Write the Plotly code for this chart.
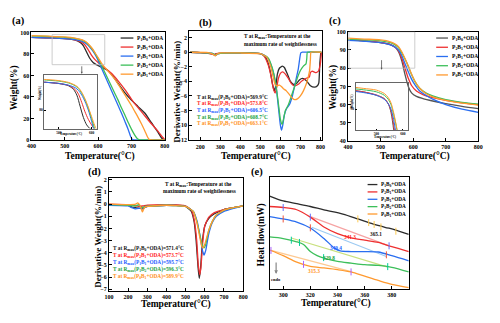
import plotly.graph_objects as go

W, H = 500, 323
FONT = "Liberation Serif"

def PX(p):
    return p / W

def PY(p):
    return 1 - p / H

# ---------------- data ----------------
names = ["P<sub>1</sub>B<sub>0</sub>+ODA", "P<sub>2</sub>B<sub>1</sub>+ODA", "P<sub>1</sub>B<sub>1</sub>+ODA",
         "P<sub>1</sub>B<sub>2</sub>+ODA", "P<sub>0</sub>B<sub>1</sub>+ODA"]
colors = ["#2b2b2b", "#ee3030", "#2a6ef0", "#3cbf5a", "#ff9a30"]
txt_colors = ["#111111", "#ff1a1a", "#1a5cff", "#1aa040", "#ff9020"]

# (a) TGA weight (%) vs temperature
a_T = [
    [400, 450, 500, 530, 545, 555, 565, 575, 585, 595, 605, 615, 625, 640, 660, 680, 700, 720, 740, 760, 780, 790, 796, 800],
    [400, 450, 500, 530, 550, 560, 570, 580, 590, 600, 610, 620, 630, 640, 660, 680, 700, 720, 740, 760, 780, 795, 800],
    [400, 450, 500, 530, 550, 560, 570, 580, 590, 600, 610, 620, 630, 640, 650, 660, 670, 680, 690, 698, 703, 710, 800],
    [400, 450, 500, 530, 550, 560, 570, 580, 590, 600, 610, 620, 630, 640, 650, 660, 670, 680, 690, 700, 710, 718, 725, 730, 800],
    [400, 450, 500, 530, 550, 560, 570, 580, 590, 600, 610, 620, 630, 640, 650, 660, 670, 680, 690, 700, 710, 720, 730, 740, 748, 753, 760, 800],
]
a_W = [
    [95.5, 95.0, 94.2, 93.0, 91.0, 88.0, 82.0, 76.0, 72.0, 70.0, 68.5, 67.0, 65.5, 61.0, 52.5, 44.0, 37.0, 31.0, 25.0, 16.0, 7.0, 2.0, 0.4, 0.3],
    [95.5, 95.0, 94.3, 93.2, 91.0, 88.5, 84.0, 79.0, 75.0, 72.0, 69.5, 67.0, 64.5, 62.0, 55.0, 47.0, 38.0, 30.0, 22.5, 15.0, 8.0, 2.0, 0.8],
    [95.5, 95.0, 94.3, 93.3, 92.0, 90.5, 88.0, 84.5, 80.0, 74.0, 67.0, 60.0, 53.0, 46.0, 39.0, 32.0, 25.0, 17.5, 10.0, 3.0, 0.3, 0.0, 0.0],
    [96.8, 96.2, 95.5, 94.5, 93.0, 91.5, 89.0, 85.5, 81.0, 75.5, 69.5, 63.0, 56.5, 50.0, 43.5, 37.0, 30.0, 23.5, 16.5, 10.0, 4.5, 1.0, 0.1, 0.0, 0.0],
    [97.0, 96.5, 95.8, 94.8, 93.3, 92.0, 89.5, 86.0, 81.5, 76.5, 71.5, 67.5, 64.0, 60.5, 56.5, 52.0, 47.0, 42.0, 37.0, 32.0, 26.5, 21.0, 15.0, 8.5, 3.0, 0.5, 0.0, 0.0],
]

# (b) DTG (%/min)
b_T = [
    [150, 200, 250, 270, 280, 300, 350, 400, 450, 500, 520, 535, 550, 560, 570, 578, 585, 595, 610, 620, 635, 650, 665, 680, 695, 710, 730, 750, 770, 785, 792, 797, 802],
    [150, 200, 250, 270, 280, 300, 400, 500, 520, 540, 555, 565, 574, 582, 590, 600, 612, 625, 640, 655, 670, 690, 705, 720, 735, 745, 750, 760, 775, 790, 800, 805],
    [150, 200, 260, 275, 290, 400, 500, 530, 550, 565, 580, 590, 600, 606, 612, 620, 630, 645, 660, 670, 680, 690, 697, 702, 710, 805],
    [150, 200, 260, 275, 290, 400, 500, 540, 560, 575, 590, 600, 609, 617, 625, 640, 655, 670, 685, 700, 715, 728, 732, 735, 805],
    [150, 240, 265, 275, 285, 300, 400, 500, 530, 550, 565, 575, 585, 595, 605, 615, 630, 645, 660, 672, 685, 700, 715, 730, 740, 746, 750, 753, 805],
]
b_D = [
    [0.0, -0.05, -0.2, -0.3, -0.2, -0.15, -0.1, -0.08, -0.1, -0.2, -0.5, -1.2, -2.7, -4.3, -5.3, -4.5, -3.0, -2.2, -1.9, -2.1, -3.0, -4.0, -4.4, -4.3, -3.8, -3.6, -3.9, -4.6, -4.8, -4.6, -4.2, -1.5, 0.0],
    [0.0, -0.05, -0.2, -0.35, -0.2, -0.12, -0.08, -0.2, -0.6, -1.8, -3.5, -5.0, -5.6, -4.8, -3.6, -2.9, -2.7, -3.0, -3.6, -4.3, -4.6, -4.4, -4.0, -3.7, -3.5, -3.4, -2.8, -2.6, -2.8, -2.6, -1.5, 0.0],
    [0.0, -0.05, -0.15, -0.45, -0.2, -0.1, -0.2, -0.6, -1.5, -2.8, -5.0, -7.5, -10.0, -10.7, -10.0, -8.6, -7.8, -7.2, -6.0, -4.8, -3.5, -2.2, -0.8, -0.1, 0.0, 0.0],
    [0.0, -0.05, -0.15, -0.4, -0.2, -0.1, -0.2, -0.8, -2.2, -4.0, -7.0, -9.2, -9.9, -9.0, -8.0, -7.2, -6.0, -4.8, -3.5, -2.5, -1.9, -1.6, -0.8, 0.0, 0.0],
    [0.0, -0.05, -0.3, -0.5, -0.25, -0.1, -0.1, -0.2, -0.6, -1.8, -3.5, -4.5, -4.6, -4.5, -4.7, -5.0, -5.3, -5.8, -6.3, -6.5, -6.4, -6.0, -5.3, -4.3, -3.3, -2.5, -1.0, 0.0, 0.0],
]
b_labels = ["569.9", "573.8", "606.5", "608.7", "663.1"]

# (c) TGA weight (%)
c_T = [
    [400, 450, 500, 530, 545, 555, 565, 575, 585, 595, 610, 630, 660, 700, 750, 800],
    [400, 450, 500, 530, 545, 555, 565, 575, 585, 595, 610, 630, 660, 700, 750, 800],
    [400, 450, 500, 530, 545, 555, 565, 575, 585, 595, 605, 620, 640, 660, 700, 750, 800],
    [400, 450, 500, 530, 545, 555, 565, 575, 585, 595, 605, 620, 640, 660, 700, 750, 800],
    [400, 450, 500, 530, 545, 555, 565, 575, 585, 595, 605, 620, 640, 660, 700, 750, 800],
]
c_W = [
    [95.5, 95.0, 94.0, 93.0, 91.5, 89.0, 84.0, 76.5, 70.0, 66.5, 64.5, 63.3, 62.0, 60.5, 59.0, 57.8],
    [95.5, 95.0, 94.1, 93.0, 91.5, 89.5, 85.5, 80.0, 74.5, 70.5, 67.5, 65.5, 63.8, 62.3, 61.0, 60.0],
    [95.3, 94.8, 94.0, 92.8, 91.5, 90.0, 87.0, 82.5, 78.0, 74.0, 71.0, 67.5, 65.0, 63.0, 60.0, 57.5, 55.8],
    [96.0, 95.6, 95.0, 94.0, 92.8, 91.3, 88.5, 85.0, 81.0, 76.5, 72.8, 69.0, 66.3, 64.8, 62.8, 61.3, 60.3],
    [96.5, 96.0, 95.5, 94.5, 93.3, 91.8, 89.0, 85.3, 81.2, 76.8, 73.0, 69.0, 66.0, 64.3, 62.3, 60.8, 59.7],
]

# (d) DTG (%/min)
d_T = [
    [100, 150, 200, 220, 240, 260, 275, 290, 320, 400, 450, 500, 530, 545, 555, 565, 571, 578, 588, 600, 620, 650, 700, 750, 800],
    [100, 200, 240, 260, 280, 300, 400, 500, 530, 545, 558, 566, 574, 580, 590, 600, 620, 650, 700, 750, 800],
    [100, 200, 220, 240, 260, 280, 300, 400, 500, 540, 560, 575, 588, 596, 605, 620, 640, 660, 700, 750, 800],
    [100, 200, 240, 255, 270, 290, 400, 500, 540, 560, 575, 588, 596, 605, 620, 640, 660, 700, 750, 800],
    [100, 200, 240, 250, 262, 275, 285, 300, 400, 500, 540, 560, 575, 585, 590, 600, 620, 640, 660, 700, 750, 800],
]
d_D = [
    [-0.05, -0.05, -0.1, -0.25, -0.3, -0.35, -0.4, -0.25, -0.15, -0.1, -0.1, -0.2, -0.6, -1.5, -3.0, -5.2, -6.1, -5.3, -3.0, -1.8, -1.2, -0.8, -0.45, -0.3, -0.15],
    [0.0, -0.05, -0.15, -0.2, -0.15, -0.1, -0.05, -0.15, -0.5, -1.3, -3.0, -5.0, -5.8, -5.2, -3.0, -1.8, -1.1, -0.7, -0.45, -0.3, -0.15],
    [-0.1, -0.15, -0.3, -0.4, -0.35, -0.3, -0.2, -0.1, -0.2, -0.6, -1.4, -2.6, -3.8, -4.2, -3.8, -2.5, -1.5, -1.0, -0.6, -0.35, -0.15],
    [-0.05, -0.1, -0.15, -0.05, -0.3, -0.2, -0.1, -0.2, -0.6, -1.5, -2.6, -3.4, -3.6, -3.3, -2.2, -1.4, -0.9, -0.5, -0.3, -0.15],
    [0.0, -0.05, 0.0, 0.1, -0.1, -0.65, -0.3, -0.2, -0.1, -0.2, -0.6, -1.6, -2.8, -3.5, -3.6, -3.3, -2.2, -1.4, -0.9, -0.5, -0.3, -0.15],
]
d_labels = ["571.4", "573.7", "595.7", "596.3", "589.9"]

# (e) DSC heat flow (arbitrary units)
e_T = [
    [290, 300, 310, 320, 330, 344, 355, 366, 375, 382.5, 392.5],
    [290, 300, 310, 320, 330, 340, 350, 360, 370, 380, 392.5],
    [290, 300, 310, 320, 330, 338, 342, 350, 360, 370, 380, 392.5],
    [290, 300, 310, 315, 320, 325, 330, 340, 350, 360, 370, 380, 392.5],
    [290, 300, 310, 320, 330, 340, 350, 360, 370, 380, 392.5],
]
e_Q = [
    [82.8, 78.4, 76.0, 73.5, 70.5, 66.8, 62.5, 58.0, 55.0, 52.8, 48.7],
    [73.5, 72.6, 70.6, 64.0, 55.2, 49.3, 45.6, 43.5, 41.5, 37.7, 33.4],
    [64.5, 62.4, 59.6, 54.3, 45.0, 36.2, 33.9, 33.4, 33.4, 33.0, 29.8, 25.2],
    [46.4, 45.0, 42.1, 39.7, 33.4, 29.8, 27.5, 24.6, 23.1, 21.7, 21.1, 19.4, 15.3],
    [34.8, 29.8, 24.0, 20.2, 18.8, 17.3, 15.3, 11.5, 7.7, 4.2, 1.3],
]
e_tan_T = [None, [320, 378], [321, 376], [306, 377], [291, 350]]
e_tan_Q = [None, [64.5, 38.5], [55.0, 29.0], [45.5, 19.5], [34.5, 15.5]]
tan_colors = ["#9a9a9a", "#f6a3a3", "#9ccaf2", "#c9e07e", "#fdc992"]
e_tick_T = [[355, 363, 367, 372, 383], [300, 320, 378], [300, 320, 376], [306, 312, 329.8, 377], [291, 315, 350]]
e_tick_Q = [[62.5, 59.2, 57.5, 55.3, 51.5], [72.6, 64.0, 38.5], [62.4, 54.5, 30.5], [43.5, 41.5, 28.0, 20.0], [34.4, 22.0, 15.3]]
e_labels = ["365.1", "341.3", "340.4", "329.8", "315.3"]
e_label_T = [368, 349, 339, 334, 323]
e_label_Q = [49.3, 46.4, 36.2, 28.1, 16.4]

# ---------------- figure ----------------
fig = go.Figure()

def add_lines(xs, ys, xa, ya, width=1.3, cols=colors, smoothing=0.8):
    for i in range(5):
        fig.add_trace(go.Scatter(x=xs[i], y=ys[i], mode="lines", xaxis=xa, yaxis=ya,
                                 line=dict(color=cols[i], width=width, shape="spline", smoothing=smoothing),
                                 showlegend=False, hoverinfo="skip"))

add_lines(a_T, a_W, "x", "y")
add_lines(a_T, a_W, "x2", "y2", width=1.0)
add_lines(b_T, b_D, "x3", "y3", smoothing=0.4)
c_cols = ["#555555"] + colors[1:]
add_lines(c_T, c_W, "x4", "y4", cols=c_cols)
add_lines(c_T, c_W, "x5", "y5", width=1.0, cols=c_cols)
add_lines(d_T, d_D, "x6", "y6", smoothing=0.4)

# (e) tangents and marks first, then curves
for i in range(5):
    if e_tan_T[i] is not None:
        fig.add_trace(go.Scatter(x=e_tan_T[i], y=e_tan_Q[i], mode="lines", xaxis="x7", yaxis="y7",
                                 line=dict(color=tan_colors[i], width=1.2), showlegend=False, hoverinfo="skip"))
add_lines(e_T, e_Q, "x7", "y7")
for i in range(5):
    fig.add_trace(go.Scatter(x=e_tick_T[i], y=e_tick_Q[i], mode="markers", xaxis="x7", yaxis="y7",
                             marker=dict(symbol="line-ns-open", size=5, line=dict(color=tan_colors[i], width=1)),
                             showlegend=False, hoverinfo="skip"))

tickfont = dict(family=FONT, size=6, color="black", weight="bold")

def axis(domain, rng, **kw):
    d = dict(domain=domain, range=rng, showline=True, mirror=True, linecolor="black", linewidth=1,
             ticks="inside", ticklen=3, tickwidth=1, tickcolor="black", showgrid=False, zeroline=False,
             tickfont=tickfont, ticklabelstandoff=0)
    d.update(kw)
    return d

dom = {
    "a": ([PX(27), PX(163)], [PY(139.5), PY(30)]),
    "ai": ([PX(40), PX(94)], [PY(128), PY(73)]),
    "b": ([PX(188), PX(323.5)], [PY(140), PY(29)]),
    "c": ([PX(350), PX(483)], [PY(140.7), PY(29.3)]),
    "ci": ([PX(357.7), PX(411.7)], [PY(129.3), PY(81.7)]),
    "d": ([PX(106), PX(243)], [PY(293.3), PY(178.3)]),
    "e": ([PX(270), PX(412)], [PY(291.5), PY(177)]),
}
insetfont = dict(family=FONT, size=3.5, color="black", weight="bold")

fig.update_layout(
    width=W, height=H, autosize=False, margin=dict(l=0, r=0, t=0, b=0),
    paper_bgcolor="white", plot_bgcolor="rgba(0,0,0,0)",
    xaxis=axis(dom["a"][0], [400, 800], anchor="y", tickvals=[400, 500, 600, 700, 800]),
    yaxis=axis(dom["a"][1], [0, 100], anchor="x", tickvals=[0, 20, 40, 60, 80, 100]),
    xaxis2=axis(dom["ai"][0], [455, 617], anchor="y2", tickvals=[500, 600], tickfont=insetfont,
                linecolor="#666666", linewidth=0.6, ticklen=1.5),
    yaxis2=axis(dom["ai"][1], [70, 99], anchor="x2", tickvals=[80], tickfont=insetfont,
                linecolor="#666666", linewidth=0.6, ticklen=1.5),
    xaxis3=axis(dom["b"][0], [145, 808], anchor="y3", tickvals=[200, 300, 400, 500, 600, 700, 800]),
    yaxis3=axis(dom["b"][1], [-12.1, 2.85], anchor="x3", tickvals=[2, 0, -2, -4, -6, -8, -10, -12]),
    xaxis4=axis(dom["c"][0], [400, 800], anchor="y4", tickvals=[400, 500, 600, 700, 800]),
    yaxis4=axis(dom["c"][1], [40, 100], anchor="x4", tickvals=[40, 50, 60, 70, 80, 90, 100]),
    xaxis5=axis(dom["ci"][0], [421, 621], anchor="y5", tickvals=[500, 600], tickfont=insetfont,
                linecolor="#666666", linewidth=0.6, ticklen=1.5),
    yaxis5=axis(dom["ci"][1], [84, 97.5], anchor="x5", tickvals=[90], tickfont=insetfont,
                linecolor="#666666", linewidth=0.6, ticklen=1.5),
    xaxis6=axis(dom["d"][0], [100, 800], anchor="y6", tickvals=[100, 200, 300, 400, 500, 600, 700, 800]),
    yaxis6=axis(dom["d"][1], [-7.13, 2.14], anchor="x6", tickvals=[2, 1, 0, -1, -2, -3, -4, -5, -6, -7]),
    xaxis7=axis(dom["e"][0], [290, 392.5], anchor="y7", tickvals=[300, 320, 340, 360, 380]),
    yaxis7=axis(dom["e"][1], [0, 100], anchor="x7", showticklabels=False, ticks=""),
)

ann = []
shapes = []

def text(x, y, s, size=6, color="black", angle=0, xanchor="center", yanchor="middle"):
    ann.append(dict(x=PX(x), y=PY(y), xref="paper", yref="paper", text=s, showarrow=False,
                    font=dict(family=FONT, size=size, color=color, weight="bold"),
                    textangle=angle, xanchor=xanchor, yanchor=yanchor))

# panel letters
for lab, x, y in [("(a)", 14, 18), ("(b)", 205, 20), ("(c)", 337, 18), ("(d)", 91, 172), ("(e)", 257, 172)]:
    text(x, y, lab, size=10.5)

# axis titles
TT = "Temperature(°C)"
text(97, 156, TT, size=9.5)
text(256, 156, TT, size=9.5)
text(418, 156, TT, size=9.5)
text(174, 307, TT, size=9.5)
text(338, 306, TT, size=9.5)
text(10, 86, "Weight(%)", size=9.5, angle=-90)
text(335, 86, "Weight(%)", size=9.5, angle=-90)
text(176, 90, "Derivative Weight(%/min)", size=9, angle=-90)
text(94, 238, "Derivative Weight(%/min)", size=9, angle=-90)
text(262, 236, "Heat flow(mW)", size=9.5, angle=-90)

# inset titles
text(67, 133, "Temperature(°C)", size=3)
text(36.5, 92, "Weight(%)", size=3, angle=-90)
text(388, 136.5, "Temperature(°C)", size=3)
text(354.5, 100, "Weight(%)", size=3, angle=-90)

# legends (a), (c), (e)
def legend(x0, x1, xt, y0, dy, size, cols):
    for i in range(5):
        y = y0 + i * dy
        shapes.append(dict(type="line", xref="paper", yref="paper", x0=PX(x0), x1=PX(x1), y0=PY(y), y1=PY(y),
                           line=dict(color=cols[i], width=1.3)))
        text(xt, y, names[i], size=size, xanchor="left")

legend(118, 131, 133, 35.7, 9.2, 5.5, colors)
legend(440, 452, 454, 35.7, 9.4, 5.5, c_cols)
legend(370, 380, 382, 185, 7.5, 5.2, colors)

# (b) and (d) annotations
def rmax(pi):
    return ["T at R<sub>max</sub>(" + names[i] + ")=" + lab + "°C" for i, lab in enumerate(pi)]

for i, s in enumerate(rmax(b_labels)):
    text(194, 96 + i * 6.8, s, size=5.3, color=txt_colors[i], xanchor="left")
for i, s in enumerate(rmax(d_labels)):
    text(108, 250 + i * 7.1, s, size=5.3, color=txt_colors[i], xanchor="left")
text(278, 34, "T at R<sub>max</sub>:Temperature at the", size=5.3)
text(281, 41.5, "maximum rate of weightlessness", size=5.3)
text(197, 185, "T at R<sub>max</sub>:Temperature at the", size=5.3)
text(198, 192, "maximum rate of weightlessness", size=5.3)

# (e) value labels
for i in range(5):
    ann.append(dict(x=e_label_T[i], y=e_label_Q[i], xref="x7", yref="y7", text=e_labels[i], showarrow=False,
                    font=dict(family=FONT, size=5.3, color=txt_colors[i], weight="bold")))
# endo arrow
ann.append(dict(x=294.8, y=13.5, xref="x7", yref="y7", ax=0, ay=-13, text="", showarrow=True,
                arrowhead=2, arrowsize=0.6, arrowwidth=1.2, arrowcolor="#888888"))
text(276.5, 282, "endo", size=4.5)

# zoom rectangles and arrows
shapes.append(dict(type="rect", xref="x", yref="y", x0=462, x1=620, y0=70, y1=98,
                   line=dict(color="#c0c0c0", width=0.8)))
ann.append(dict(x=551, y=61.5, xref="x", yref="y", ax=0, ay=-9, text="", showarrow=True,
                arrowhead=2, arrowsize=0.5, arrowwidth=0.8, arrowcolor="#555555"))
shapes.append(dict(type="rect", xref="x4", yref="y4", x0=403, x1=605, y0=80, y1=100,
                   line=dict(color="#c0c0c0", width=0.8)))
ann.append(dict(x=503, y=79.2, xref="x4", yref="y4", ax=0, ay=-11, text="", showarrow=True,
                arrowhead=2, arrowsize=0.5, arrowwidth=0.8, arrowcolor="#555555"))

fig.update_layout(annotations=ann, shapes=shapes)
fig.write_html("out.html")
